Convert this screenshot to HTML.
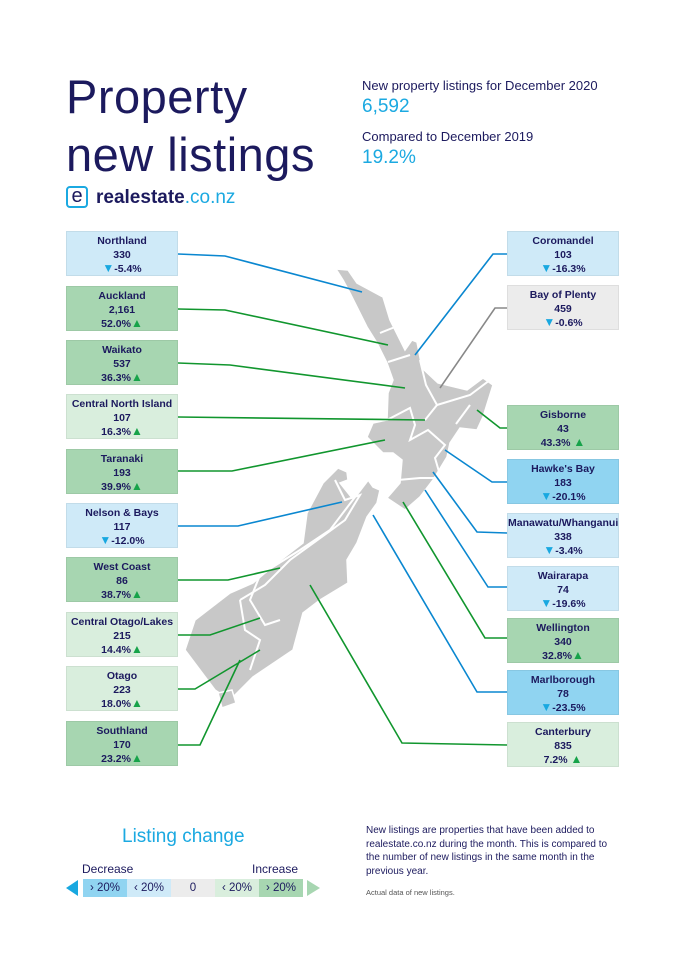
<!DOCTYPE html>
<html><head><meta charset="utf-8"><style>
body{margin:0;background:#fff;font-family:"Liberation Sans",sans-serif;color:#1c1a5e}
.p{position:relative;width:685px;height:969px;overflow:hidden}
.a{position:absolute}
.b{position:absolute;width:112px;height:45px;text-align:center;font-size:10.5px;font-weight:bold;line-height:13.5px;padding-top:3px;box-sizing:border-box;border:1px solid rgba(0,0,0,0.06)}
.lb{background:#cfeaf8}.db{background:#90d4f1}.lg{background:#d9eedd}.dg{background:#a7d6b1}.gr{background:#ececec}
.u{color:#17a34a;font-size:12px}.d{color:#19a8e0;font-size:12px}
</style></head><body><div class="p">
<div class="a" style="left:66px;top:68px;font-size:47px;line-height:58px;color:#1c1a5e;letter-spacing:0.5px">Property<br>new listings</div>
<div class="a" style="left:362px;top:78px;font-size:13px">New property listings for December 2020</div>
<div class="a" style="left:362px;top:96px;font-size:19px;color:#1ba9e1">6,592</div>
<div class="a" style="left:362px;top:129px;font-size:13px">Compared to December 2019</div>
<div class="a" style="left:362px;top:147px;font-size:19px;color:#1ba9e1">19.2%</div>
<div class="a" style="left:66px;top:186px;width:22px;height:22px;border:2px solid #1ba9e1;border-radius:4px;box-sizing:border-box;font-size:20px;line-height:16px;text-align:center;background:#fff">e</div>
<div class="a" style="left:96px;top:187px;font-size:19px;font-weight:bold">realestate<span style="color:#1ba9e1;font-weight:normal">.co.nz</span></div>

<svg class="a" style="left:0;top:0" width="685" height="969">
<g fill="#c8c8c8" stroke="#fff" stroke-width="1.5">
<polygon points="336,269 348,270 357,283 383,297 390,320 405,350 412,340 417,342 422,368 438,383 467,390 483,378 493,385 483,417 477,430 460,428 450,443 447,457 433,480 420,497 405,510 387,498 400,483 402,460 393,453 383,453 367,437 373,423 387,420 388,393 393,380 387,363 377,343 367,327 350,293 343,280"/>
<polygon points="338,468 347,472 348,480 340,483 352,498 368,480 373,487 380,490 377,503 367,517 357,543 347,560 348,583 320,600 303,613 293,650 253,677 237,693 230,700 215,690 200,670 185,650 195,620 230,593 253,583 277,563 303,543 307,513 323,483"/>
<polygon points="218,693 232,690 236,703 222,708"/>
</g>
<g fill="none" stroke="#fff" stroke-width="2">
<polyline points="380,333 395,327"/><polyline points="388,362 410,355"/><polyline points="420,360 426,385 437,405 425,420"/><polyline points="387,420 410,408 415,425 410,440 428,430 445,445 435,458 440,475"/><polyline points="437,405 470,395 490,380"/><polyline points="456,424 470,405"/><polyline points="398,480 420,478 436,478"/>
<polyline points="335,480 345,500 360,495 345,520 290,560 265,585 240,600"/><polyline points="368,480 330,530 300,550 260,575 250,600 265,625 280,620"/><polyline points="240,600 245,630 260,640 250,670"/>
</g>
<g fill="none" stroke-width="1.6">
<polyline stroke="#0a87d0" points="178,254 225,256 362,292"/>
<polyline stroke="#11962e" points="178,309 225,310 388,345"/>
<polyline stroke="#11962e" points="178,363 230,365 405,388"/>
<polyline stroke="#11962e" points="178,417 425,420"/>
<polyline stroke="#11962e" points="178,471 232,471 385,440"/>
<polyline stroke="#0a87d0" points="178,526 238,526 342,502"/>
<polyline stroke="#11962e" points="178,580 228,580 280,568"/>
<polyline stroke="#11962e" points="178,635 210,635 260,618"/>
<polyline stroke="#11962e" points="178,689 195,689 260,650"/>
<polyline stroke="#11962e" points="178,745 200,745 240,660"/>
<polyline stroke="#0a87d0" points="507,254 493,254 415,355"/>
<polyline stroke="#888" points="507,308 495,308 440,388"/>
<polyline stroke="#11962e" points="507,428 500,428 477,410"/>
<polyline stroke="#0a87d0" points="507,482 492,482 445,450"/>
<polyline stroke="#0a87d0" points="507,533 477,532 433,472"/>
<polyline stroke="#0a87d0" points="507,587 488,587 425,490"/>
<polyline stroke="#11962e" points="507,638 485,638 403,502"/>
<polyline stroke="#0a87d0" points="507,692 477,692 373,515"/>
<polyline stroke="#11962e" points="507,745 402,743 310,585"/>
</g>
<polygon points="66,888 78,880 78,896" fill="#19a8e0"/>
<polygon points="320,888 307,880 307,896" fill="#a7d6b1"/>
</svg>

<div class="b lb" style="left:66px;top:231px">Northland<br>330<br><span class="d">▼</span>-5.4%</div>
<div class="b dg" style="left:66px;top:286px">Auckland<br>2,161<br>52.0%<span class="u">▲</span></div>
<div class="b dg" style="left:66px;top:340px">Waikato<br>537<br>36.3%<span class="u">▲</span></div>
<div class="b lg" style="left:66px;top:394px">Central North Island<br>107<br>16.3%<span class="u">▲</span></div>
<div class="b dg" style="left:66px;top:449px">Taranaki<br>193<br>39.9%<span class="u">▲</span></div>
<div class="b lb" style="left:66px;top:503px">Nelson &amp; Bays<br>117<br><span class="d">▼</span>-12.0%</div>
<div class="b dg" style="left:66px;top:557px">West Coast<br>86<br>38.7%<span class="u">▲</span></div>
<div class="b lg" style="left:66px;top:612px">Central Otago/Lakes<br>215<br>14.4%<span class="u">▲</span></div>
<div class="b lg" style="left:66px;top:666px">Otago<br>223<br>18.0%<span class="u">▲</span></div>
<div class="b dg" style="left:66px;top:721px">Southland<br>170<br>23.2%<span class="u">▲</span></div>

<div class="b lb" style="left:507px;top:231px">Coromandel<br>103<br><span class="d">▼</span>-16.3%</div>
<div class="b gr" style="left:507px;top:285px">Bay of Plenty<br>459<br><span class="d">▼</span>-0.6%</div>
<div class="b dg" style="left:507px;top:405px">Gisborne<br>43<br>43.3% <span class="u">▲</span></div>
<div class="b db" style="left:507px;top:459px">Hawke's Bay<br>183<br><span class="d">▼</span>-20.1%</div>
<div class="b lb" style="left:507px;top:513px">Manawatu/Whanganui<br>338<br><span class="d">▼</span>-3.4%</div>
<div class="b lb" style="left:507px;top:566px">Wairarapa<br>74<br><span class="d">▼</span>-19.6%</div>
<div class="b dg" style="left:507px;top:618px">Wellington<br>340<br>32.8%<span class="u">▲</span></div>
<div class="b db" style="left:507px;top:670px">Marlborough<br>78<br><span class="d">▼</span>-23.5%</div>
<div class="b lg" style="left:507px;top:722px">Canterbury<br>835<br>7.2% <span class="u">▲</span></div>

<div class="a" style="left:122px;top:826px;font-size:19px;color:#1ba9e1">Listing change</div>
<div class="a" style="left:82px;top:862px;font-size:12px">Decrease</div>
<div class="a" style="left:252px;top:862px;font-size:12px">Increase</div>
<div class="a" style="left:83px;top:879px;display:flex;font-size:11.5px;line-height:18px;text-align:center">
<div style="width:44px;background:#90d4f1">› 20%</div><div style="width:44px;background:#cfeaf8">‹ 20%</div><div style="width:44px;background:#ececec">0</div><div style="width:44px;background:#d9eedd">‹ 20%</div><div style="width:44px;background:#a7d6b1">› 20%</div></div>
<div class="a" style="left:366px;top:824px;width:248px;font-size:10px;line-height:13.5px">New listings are properties that have been added to realestate.co.nz during the month. This is compared to the number of new listings in the same month in the previous year.</div>
<div class="a" style="left:366px;top:888px;font-size:7.5px;color:#555">Actual data of new listings.</div>
</div></body></html>
